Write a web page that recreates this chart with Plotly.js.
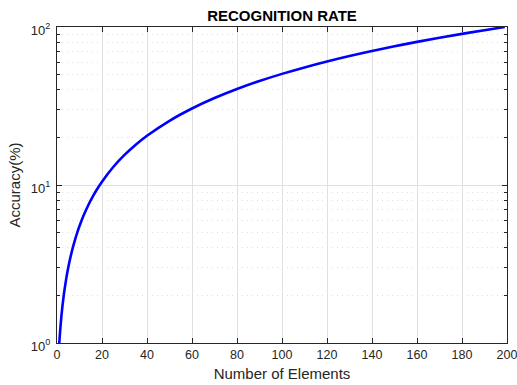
<!DOCTYPE html>
<html>
<head>
<meta charset="utf-8">
<script src="https://cdn.plot.ly/plotly-3.0.1.min.js"></script>
<style>html,body{margin:0;padding:0;background:#fff;}#chart{width:517px;height:385px;}</style>
</head>
<body>
<div id="chart"></div>
<script>
// Data
var elements = [1,2,3,4,5,6,7,8,9,10,12,14,16,18,20,25,30,35,40,50,60,70,80,90,100,110,120,130,140,150,160,170,180,190,199];
var accuracy = [1,1.5,2,2.5,3,3.5,4,4.5,5,5.5,6.5,7.5,8.5,9.5,10.5,13,15.5,18,20.5,25.5,30.5,35.5,40.5,45.5,50.5,55.5,60.5,65.5,70.5,75.5,80.5,85.5,90.5,95.5,100];

var xTickVals = [0,20,40,60,80,100,120,140,160,180,200];
var yTickVals = [1,10,100];
var yTickText = ['10<sup>0</sup>','10<sup>1</sup>','10<sup>2</sup>'];
var yMinorVals = [2,3,4,5,6,7,8,9,20,30,40,50,60,70,80,90];

var trace = {
  x: elements, y: accuracy, type: 'scatter', mode: 'lines',
  line: {color: '#0000ff', width: 2.6, shape: 'spline'},
  hoverinfo: 'skip'
};

var axisColor = '#262626';
var layout = {
  width: 517, height: 385,
  margin: {l: 57, r: 10, t: 27, b: 42},
  paper_bgcolor: '#ffffff', plot_bgcolor: '#ffffff',
  showlegend: false,
  font: {family: 'Liberation Sans, Arial, sans-serif', color: axisColor, size: 12},
  title: {text: '<b>RECOGNITION RATE</b>', x: 0.5455, xanchor: 'center', y: 0.958, yanchor: 'middle',
          font: {size: 15, color: '#000000', family: 'Liberation Sans, Arial, sans-serif'}},
  xaxis: {
    range: [0, 200], tickmode: 'array', tickvals: xTickVals,
    ticks: 'inside', ticklen: 5, tickcolor: axisColor, tickwidth: 1,
    showline: true, linecolor: axisColor, linewidth: 1, mirror: 'ticks',
    showgrid: true, gridcolor: '#e0e0e0', gridwidth: 1, zeroline: false,
    ticklabeloverflow: 'allow',
    tickfont: {size: 12.5, color: axisColor},
    title: {text: 'Number of Elements', font: {size: 15, color: axisColor}, standoff: 7}
  },
  yaxis: {
    type: 'log', range: [0, 2], tickmode: 'array', tickvals: yTickVals, ticktext: yTickText,
    ticks: 'inside', ticklen: 5, tickcolor: axisColor, tickwidth: 1,
    showline: true, linecolor: axisColor, linewidth: 1, mirror: 'ticks',
    showgrid: true, gridcolor: '#e0e0e0', gridwidth: 1, zeroline: false,
    ticklabelstandoff: 3, ticklabelshift: 3,
    tickfont: {size: 13, color: axisColor},
    minor: {tickmode: 'array', tickvals: yMinorVals, ticks: 'inside', ticklen: 3, tickcolor: axisColor,
            showgrid: true, gridcolor: '#dedede', griddash: '1px,4px', gridwidth: 1},
    title: {text: 'Accuracy(%)', font: {size: 15, color: axisColor}, standoff: 6}
  }
};

Plotly.newPlot('chart', [trace], layout, {staticPlot: true, displayModeBar: false});
</script>
</body>
</html>
